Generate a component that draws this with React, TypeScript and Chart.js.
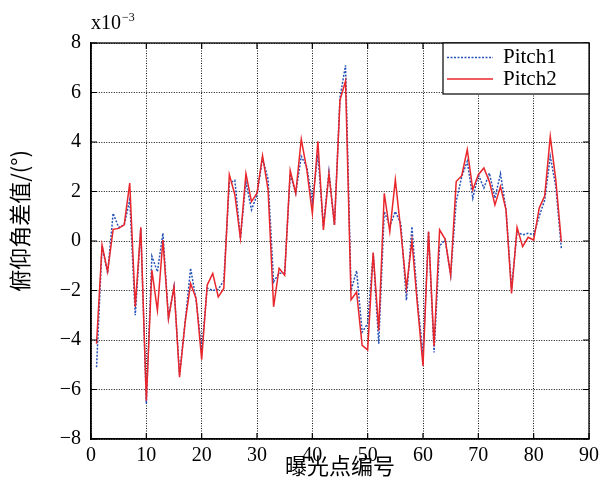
import React, { useEffect, useRef } from "react";
import { Chart, registerables } from "chart.js";

Chart.register(...registerables);

const xIndex: number[] = Array.from({ length: 85 }, (_, i) => i + 1);

const pitch1: number[] = [
  -5.1, -0.2, -1.3, 1.12, 0.55, 0.65, 1.66, -3.0, 0.5, -6.57,
  -0.61, -1.24, 0.31, -3.1, -1.85, -5.4, -3.3, -1.1, -2.4, -4.4,
  -1.9, -2.0, -1.95, -1.6, 2.34, 2.45, 0.11, 2.4, 1.26, 1.85,
  3.35, 2.5, -1.65, -1.3, -1.3, 2.7, 1.93, 3.42, 3.0, 1.6,
  3.5, 0.6, 2.8, 0.65, 5.8, 7.1, -2.0, -1.2, -3.68, -3.34,
  -0.5, -4.15, 1.19, 0.6, 1.19, 0.7, -2.4, 0.58, -2.4, -4.6,
  0.38, -4.5, -0.2, 0.05, -1.38, 1.6, 2.6, 3.22, 1.73, 2.68,
  2.14, 2.74, 1.73, 2.72, 1.26, -1.9, 0.37, 0.25, 0.31, 0.25,
  1.0, 1.66, 3.42, 2.2, -0.3,
];

const pitch2: number[] = [
  -4.15, -0.16, -1.24, 0.47, 0.51, 0.65, 2.34, -2.66, 0.55, -6.45,
  -1.18, -2.8, 0.04, -3.14, -1.85, -5.5, -3.3, -1.72, -2.33, -4.8,
  -1.78, -1.31, -2.26, -1.92, 2.68, 1.87, 0.11, 2.72, 1.59, 1.93,
  3.45, 2.07, -2.66, -1.1, -1.38, 2.85, 1.93, 4.12, 2.88, 1.12,
  4.03, 0.45, 2.72, 0.65, 5.7, 6.46, -2.37, -2.06, -4.22, -4.4,
  -0.47, -3.61, 1.93, 0.38, 2.47, 0.4, -1.9, 0.0, -2.6, -5.05,
  0.38, -4.25, 0.45, 0.08, -1.38, 2.4, 2.64, 3.69, 2.07, 2.68,
  2.95, 2.4, 1.46, 2.2, 1.26, -2.12, 0.55, -0.23, 0.15, 0.04,
  1.33, 1.83, 4.23, 2.47, -0.03,
];

const seriesNames: string[] = ["Pitch1", "Pitch2"];
const seriesColors: string[] = ["#2553b8", "#e8262b"];
const xTitle = "曝光点编号";
const yTitle = "俯仰角差值/(°)";
const scaleNote = "x10";
const scaleExp = "\u22123";

const SERIF = "'Liberation Serif', 'Times New Roman', serif";
const CJK = "'Noto Sans CJK SC', sans-serif";

const decorPlugin = {
  id: "decor",
  afterDraw(chart: any) {
    const ctx = chart.ctx as CanvasRenderingContext2D;
    const a = chart.chartArea;
    const xs = chart.scales.x;
    const ys = chart.scales.y;
    ctx.save();
    ctx.strokeStyle = "#000";
    ctx.lineWidth = 1.3;
    ctx.setLineDash([]);
    ctx.strokeRect(a.left, a.top, a.right - a.left, a.bottom - a.top);
    const tl = 6;
    ctx.lineWidth = 1.2;
    ctx.beginPath();
    xs.ticks.forEach((t: any) => {
      const px = xs.getPixelForValue(t.value);
      ctx.moveTo(px, a.bottom);
      ctx.lineTo(px, a.bottom - tl);
      ctx.moveTo(px, a.top);
      ctx.lineTo(px, a.top + tl);
    });
    ys.ticks.forEach((t: any) => {
      const py = ys.getPixelForValue(t.value);
      ctx.moveTo(a.left, py);
      ctx.lineTo(a.left + tl, py);
      ctx.moveTo(a.right, py);
      ctx.lineTo(a.right - tl, py);
    });
    ctx.stroke();

    ctx.fillStyle = "#000";
    ctx.font = `22px ${CJK}`;
    ctx.textAlign = "center";
    ctx.textBaseline = "middle";
    ctx.fillText(xTitle, (a.left + a.right) / 2, 466);
    ctx.save();
    ctx.translate(20, 221);
    ctx.rotate(-Math.PI / 2);
    ctx.fillText(yTitle, 0, 0);
    ctx.restore();

    ctx.textAlign = "left";
    ctx.textBaseline = "alphabetic";
    ctx.font = `20px ${SERIF}`;
    ctx.fillText(scaleNote, 91, 29);
    const w = ctx.measureText(scaleNote).width;
    ctx.font = `12px ${SERIF}`;
    ctx.fillText(scaleExp, 91 + w + 1, 21);

    const lx = 443, ly = 43, lw = a.right - 443, lh = 51;
    ctx.fillStyle = "#fff";
    ctx.fillRect(lx, ly, lw, lh);
    ctx.strokeStyle = "#000";
    ctx.lineWidth = 1.2;
    ctx.strokeRect(lx, ly, lw, lh);
    const rows = [57.5, 79];
    seriesNames.forEach((name, i) => {
      ctx.beginPath();
      ctx.strokeStyle = seriesColors[i];
      ctx.lineWidth = 1.5;
      ctx.setLineDash(i === 0 ? [2, 1.5] : []);
      ctx.moveTo(447, rows[i]);
      ctx.lineTo(493, rows[i]);
      ctx.stroke();
      ctx.setLineDash([]);
      ctx.fillStyle = "#000";
      ctx.font = `21px ${SERIF}`;
      ctx.textBaseline = "middle";
      ctx.fillText(name, 503, rows[i]);
    });
    ctx.restore();
  },
};

export default function App() {
  const ref = useRef<HTMLCanvasElement | null>(null);
  useEffect(() => {
    if (!ref.current) return;
    const toPts = (arr: number[]) => arr.map((v, i) => ({ x: xIndex[i], y: v }));
    const chart = new Chart(ref.current, {
      type: "line",
      data: {
        datasets: [
          {
            label: seriesNames[0],
            data: toPts(pitch1),
            borderColor: seriesColors[0],
            borderWidth: 1.5,
            borderDash: [2, 1.5],
            pointRadius: 0,
            tension: 0,
            fill: false,
            order: 2,
          },
          {
            label: seriesNames[1],
            data: toPts(pitch2),
            borderColor: seriesColors[1],
            borderWidth: 1.5,
            pointRadius: 0,
            tension: 0,
            fill: false,
            order: 1,
          },
        ],
      },
      options: {
        responsive: false,
        animation: false,
        events: [],
        layout: { padding: { top: 43, right: 9, left: 0, bottom: 0 } },
        plugins: { legend: { display: false }, tooltip: { enabled: false } },
        scales: {
          x: {
            type: "linear",
            min: 0,
            max: 90,
            afterFit: (s: any) => { s.height = 47; },
            ticks: {
              stepSize: 10,
              padding: 5,
              color: "#000",
              font: { family: SERIF, size: 20 },
              maxRotation: 0,
            },
            grid: { color: "#111", lineWidth: 1, drawTicks: false },
            border: { display: true, color: "#000", width: 1.3, dash: [1, 1.5] },
          },
          y: {
            type: "linear",
            min: -8,
            max: 8,
            afterFit: (s: any) => { s.width = 91; },
            ticks: {
              stepSize: 2,
              padding: 10,
              color: "#000",
              font: { family: SERIF, size: 20 },
              callback: (v: any) => String(v).replace("-", "\u2212"),
            },
            grid: { color: "#111", lineWidth: 1, drawTicks: false },
            border: { display: true, color: "#000", width: 1.3, dash: [1, 1.5] },
          },
        },
      } as any,
      plugins: [decorPlugin],
    });
    return () => chart.destroy();
  }, []);
  return (
    <div style={{ position: "fixed", left: 0, top: 0, width: 604, height: 486, background: "#fff" }}>
      <canvas ref={ref} width={604} height={486} />
    </div>
  );
}
